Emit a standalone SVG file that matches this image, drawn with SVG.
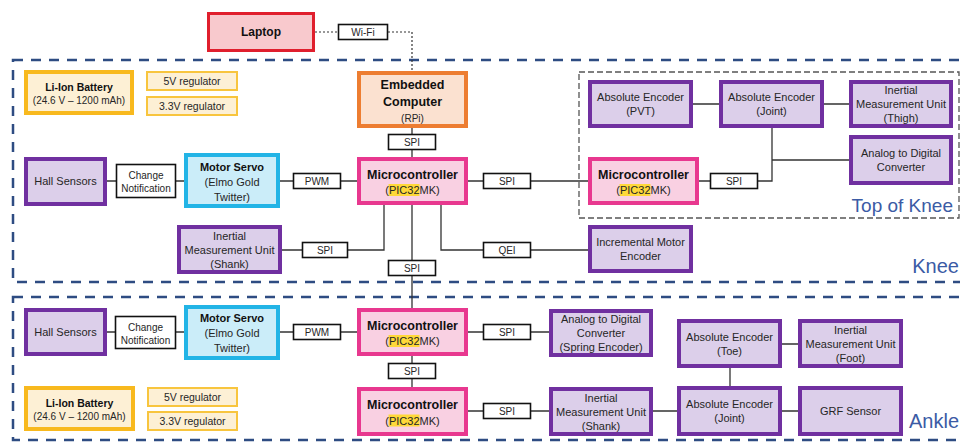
<svg xmlns="http://www.w3.org/2000/svg" width="960" height="443" viewBox="0 0 960 443">
<style>
  .pu{fill:#dccfea;stroke:#7030a0;stroke-width:4}
  .mc{fill:#f9d0e2;stroke:#e8388f;stroke-width:4}
  .sv{fill:#cbedf9;stroke:#22b4e6;stroke-width:4}
  .ec{fill:#fbe1d0;stroke:#ed7d31;stroke-width:4}
  .lp{fill:#f8c9cd;stroke:#e01f2d;stroke-width:3}
  .bt{fill:#fdf0d5;stroke:#f8b91e;stroke-width:4}
  .rg{fill:#fdf0d5;stroke:#f8c53e;stroke-width:2}
  .lb{fill:#fff;stroke:#111;stroke-width:1.6}
  .hl{fill:#ffd83a}
  .wire{fill:none;stroke:#333;stroke-width:1.3}
  .wifi{fill:none;stroke:#333;stroke-width:1.2;stroke-dasharray:2 2}
  .zone{fill:none;stroke:#2e4c82;stroke-width:2.5;stroke-dasharray:10 8}
  .sub{fill:none;stroke:#555;stroke-width:1.3;stroke-dasharray:6 3}
  text{font-family:"Liberation Sans",Arial,sans-serif;fill:#262626;text-anchor:middle;font-size:11px}
  .b{font-weight:bold;fill:#111}
  .s{font-size:10px}
  .m{font-size:12.5px}
  .zl{font-size:20px;fill:#3b5ba5;text-anchor:end}
</style>

<!-- zones -->
<g id="zones">
  <rect class="zone" x="13" y="60" width="985" height="222"/>
  <rect class="zone" x="13" y="297" width="985" height="143"/>
  <rect class="sub" x="579" y="72" width="380" height="146"/>
  <text class="zl" style="font-size:19px" x="953" y="212">Top of Knee</text>
  <text class="zl" x="959" y="273">Knee</text>
  <text class="zl" x="959" y="428">Ankle</text>
</g>

<!-- connectors -->
<g id="connectors">
  <path class="wifi" d="M315,32 H338 M388,32 H412 V71"/>
  <path class="wire" d="M412,128 V134 M412,150 V157"/>
  <path class="wire" d="M107,181 H116 M176,181 H184 M280,181 H293 M341,181 H357"/>
  <path class="wire" d="M468,181 H483 M531,181 H588"/>
  <path class="wire" d="M699,181 H710 M758,181 H772 V128 M772,160 H849"/>
  <path class="wire" d="M693,104 H719 M824,104 H849"/>
  <path class="wire" d="M282,250 H302 M348,250 H384 V205"/>
  <path class="wire" d="M441,205 V250 H483 M531,250 H588"/>
  <path class="wire" d="M412,205 V260 M412,276 V308"/>
  <path class="wire" d="M107,332 H115 M176,332 H184 M280,332 H293 M341,332 H357"/>
  <path class="wire" d="M468,332 H483 M531,332 H549"/>
  <path class="wire" d="M412,356 V363 M412,379 V387"/>
  <path class="wire" d="M468,411 H483 M531,411 H549"/>
  <path class="wire" d="M653,411 H677 M782,411 H798"/>
  <path class="wire" d="M730,368 V386 M782,344 H798"/>
</g>

<!-- link labels -->
<g id="labels">
  <g id="lbl-wifi"><rect class="lb" x="338.5" y="24.5" width="49" height="15"/><text class="s" x="363" y="35.5">Wi-Fi</text></g>
  <g id="lbl-spi-rpi"><rect class="lb" x="388.5" y="134.5" width="47" height="15"/><text class="s" x="412" y="145.5">SPI</text></g>
  <g id="lbl-pwm-k"><rect class="lb" x="293.5" y="173.5" width="47" height="15"/><text class="s" x="317" y="184.5">PWM</text></g>
  <g id="lbl-spi-k-imu"><rect class="lb" x="302.5" y="242.5" width="45" height="15"/><text class="s" x="325" y="253.5">SPI</text></g>
  <g id="lbl-spi-k-a"><rect class="lb" x="388.5" y="260.5" width="47" height="15"/><text class="s" x="412" y="271.5">SPI</text></g>
  <g id="lbl-qei"><rect class="lb" x="483.5" y="242.5" width="47" height="15"/><text class="s" x="507" y="253.5">QEI</text></g>
  <g id="lbl-spi-k-top"><rect class="lb" x="483.5" y="173.5" width="47" height="15"/><text class="s" x="507" y="184.5">SPI</text></g>
  <g id="lbl-spi-top"><rect class="lb" x="710.5" y="173.5" width="47" height="15"/><text class="s" x="734" y="184.5">SPI</text></g>
  <g id="lbl-cn-k"><rect class="lb" x="116.5" y="164.5" width="59" height="33"/><text class="s" x="146" y="179">Change</text><text class="s" x="146" y="192">Notification</text></g>
  <g id="lbl-cn-a"><rect class="lb" x="115.5" y="316.5" width="60" height="32"/><text class="s" x="145.5" y="330.5">Change</text><text class="s" x="145.5" y="343.5">Notification</text></g>
  <g id="lbl-pwm-a"><rect class="lb" x="293.5" y="324.5" width="47" height="15"/><text class="s" x="317" y="335.5">PWM</text></g>
  <g id="lbl-spi-a-adc"><rect class="lb" x="483.5" y="324.5" width="47" height="15"/><text class="s" x="507" y="335.5">SPI</text></g>
  <g id="lbl-spi-a-mid"><rect class="lb" x="388.5" y="363.5" width="47" height="15"/><text class="s" x="412" y="374.5">SPI</text></g>
  <g id="lbl-spi-a-imu"><rect class="lb" x="483.5" y="403.5" width="47" height="15"/><text class="s" x="507" y="414.5">SPI</text></g>
</g>

<!-- top level -->
<g id="laptop"><rect class="lp" x="208.5" y="13.5" width="105" height="37"/><text class="b" style="font-size:12px" x="261" y="36">Laptop</text></g>

<!-- knee -->
<g id="battery-k"><rect class="bt" x="26" y="72" width="106" height="41"/><text class="b" style="font-size:10.5px" x="79" y="91">Li-Ion Battery</text><text class="s" x="79" y="104">(24.6 V – 1200 mAh)</text></g>
<g id="reg5-k"><rect class="rg" x="147" y="72" width="90" height="18"/><text style="font-size:10.5px" x="192" y="85">5V regulator</text></g>
<g id="reg33-k"><rect class="rg" x="147" y="97" width="90" height="18"/><text style="font-size:10.5px" x="192" y="110">3.3V regulator</text></g>
<g id="embedded"><rect class="ec" x="359" y="73" width="107" height="53"/><text class="b m" x="412.5" y="89">Embedded</text><text class="b m" x="412.5" y="106">Computer</text><text class="s" x="412.5" y="122">(RPi)</text></g>
<g id="micro-k"><rect class="mc" x="359" y="159" width="107" height="44"/><text class="b m" x="412.5" y="178.5">Microcontroller</text><rect class="hl" x="388.5" y="184" width="31" height="12"/><text x="412.5" y="194">(PIC32MK)</text></g>
<g id="hall-k"><rect class="pu" x="26" y="159" width="79" height="45"/><text x="65.5" y="185">Hall Sensors</text></g>
<g id="servo-k"><rect class="sv" x="186" y="155" width="92" height="51"/><text class="b" x="232" y="171">Motor Servo</text><text x="232" y="186">(Elmo Gold</text><text x="232" y="201">Twitter)</text></g>
<g id="imu-shank-k"><rect class="pu" x="179" y="227" width="101" height="45"/><text x="229.5" y="240">Inertial</text><text x="229.5" y="254">Measurement Unit</text><text x="229.5" y="268">(Shank)</text></g>
<g id="incremental"><rect class="pu" x="590" y="227" width="101" height="44"/><text x="640.5" y="246">Incremental Motor</text><text x="640.5" y="260">Encoder</text></g>

<!-- top of knee -->
<g id="micro-top"><rect class="mc" x="590" y="159" width="107" height="44"/><text class="b m" x="643.5" y="178.5">Microcontroller</text><rect class="hl" x="619.5" y="184" width="31" height="12"/><text x="643.5" y="194">(PIC32MK)</text></g>
<g id="abs-pvt"><rect class="pu" x="590" y="82" width="101" height="44"/><text x="640.5" y="101">Absolute Encoder</text><text x="640.5" y="115">(PVT)</text></g>
<g id="abs-joint-k"><rect class="pu" x="721" y="82" width="101" height="44"/><text x="771.5" y="101">Absolute Encoder</text><text x="771.5" y="115">(Joint)</text></g>
<g id="imu-thigh"><rect class="pu" x="851" y="82" width="100" height="44"/><text x="901" y="94">Inertial</text><text x="901" y="108">Measurement Unit</text><text x="901" y="122">(Thigh)</text></g>
<g id="adc-k"><rect class="pu" x="851" y="137" width="100" height="46"/><text x="901" y="157">Analog to Digital</text><text x="901" y="171">Converter</text></g>

<!-- ankle -->
<g id="hall-a"><rect class="pu" x="26" y="310" width="79" height="44"/><text x="65.5" y="336">Hall Sensors</text></g>
<g id="servo-a"><rect class="sv" x="186" y="307" width="92" height="51"/><text class="b" x="232" y="322">Motor Servo</text><text x="232" y="337">(Elmo Gold</text><text x="232" y="352">Twitter)</text></g>
<g id="battery-a"><rect class="bt" x="26" y="388" width="107" height="41"/><text class="b" style="font-size:10.5px" x="79.5" y="407">Li-Ion Battery</text><text class="s" x="79.5" y="420">(24.6 V – 1200 mAh)</text></g>
<g id="reg5-a"><rect class="rg" x="148" y="388" width="89" height="18"/><text style="font-size:10.5px" x="192.5" y="401">5V regulator</text></g>
<g id="reg33-a"><rect class="rg" x="148" y="412" width="89" height="18"/><text style="font-size:10.5px" x="192.5" y="425">3.3V regulator</text></g>
<g id="micro-a1"><rect class="mc" x="359" y="310" width="107" height="44"/><text class="b m" x="412.5" y="329.5">Microcontroller</text><rect class="hl" x="388.5" y="335" width="31" height="12"/><text x="412.5" y="345">(PIC32MK)</text></g>
<g id="micro-a2"><rect class="mc" x="359" y="389" width="107" height="45"/><text class="b m" x="412.5" y="409">Microcontroller</text><rect class="hl" x="388.5" y="414.5" width="31" height="12"/><text x="412.5" y="424.5">(PIC32MK)</text></g>
<g id="adc-spring"><rect class="pu" x="551" y="311" width="100" height="44"/><text x="601" y="323">Analog to Digital</text><text x="601" y="337">Converter</text><text x="601" y="351">(Spring Encoder)</text></g>
<g id="imu-shank-a"><rect class="pu" x="551" y="389" width="100" height="45"/><text x="601" y="401.5">Inertial</text><text x="601" y="415.5">Measurement Unit</text><text x="601" y="429.5">(Shank)</text></g>
<g id="abs-toe"><rect class="pu" x="679" y="321" width="101" height="45"/><text x="729.5" y="340.5">Absolute Encoder</text><text x="729.5" y="354.5">(Toe)</text></g>
<g id="imu-foot"><rect class="pu" x="800" y="321" width="101" height="45"/><text x="850.5" y="333.5">Inertial</text><text x="850.5" y="347.5">Measurement Unit</text><text x="850.5" y="361.5">(Foot)</text></g>
<g id="abs-joint-a"><rect class="pu" x="679" y="388" width="101" height="46"/><text x="729.5" y="408">Absolute Encoder</text><text x="729.5" y="422">(Joint)</text></g>
<g id="grf"><rect class="pu" x="800" y="388" width="101" height="46"/><text x="850.5" y="415">GRF Sensor</text></g>
</svg>
